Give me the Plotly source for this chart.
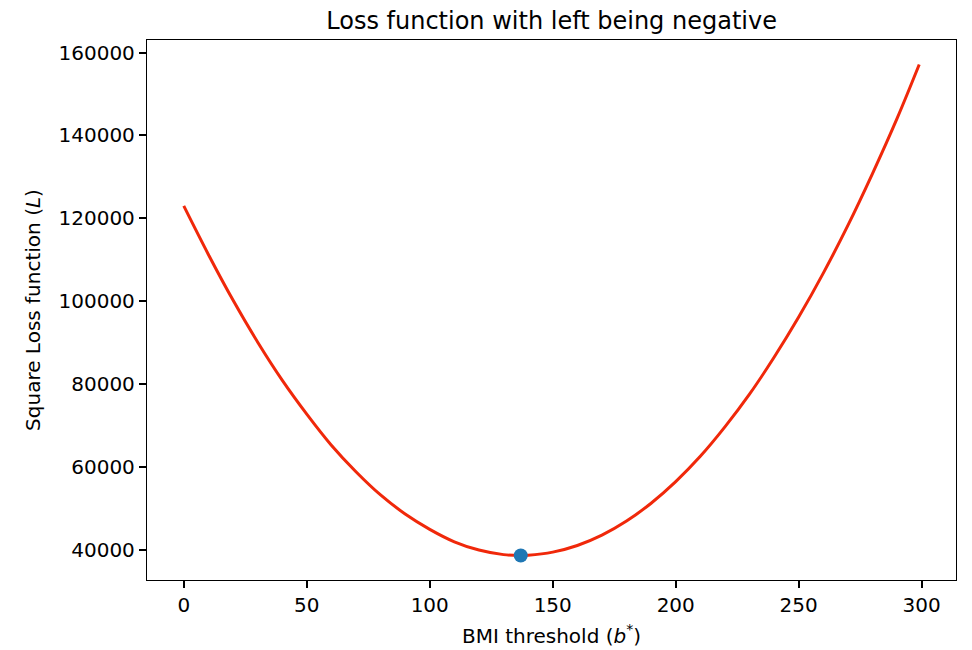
import plotly.graph_objects as go

# BMI threshold values and loss
bmi_threshold = [0, 10, 20, 30, 40, 50, 60, 70, 80, 90, 100, 110, 120, 130, 137,
                 140, 150, 160, 170, 180, 190, 200, 210, 220, 230, 240, 250, 260,
                 270, 280, 290, 299]
square_loss = [123000, 111300, 100300, 90200, 81000, 72800, 65300, 58900, 53300,
               48700, 45000, 42000, 40000, 38900, 38700, 38750, 39500, 41100,
               43600, 47000, 51300, 56500, 62600, 69700, 77600, 86500, 96200,
               106800, 118300, 130800, 144100, 157100]

best_threshold = [137]
best_loss = [38700]

x_ticks = [0, 50, 100, 150, 200, 250, 300]
y_ticks = [40000, 60000, 80000, 100000, 120000, 140000, 160000]

font_family = "DejaVu Sans"

fig = go.Figure()
fig.add_trace(go.Scatter(
    x=bmi_threshold, y=square_loss, mode="lines",
    line=dict(color="#f0280a", width=3, shape="spline"),
    showlegend=False, hoverinfo="skip"))
fig.add_trace(go.Scatter(
    x=best_threshold, y=best_loss, mode="markers",
    marker=dict(color="#1f77b4", size=14),
    showlegend=False))

axis_common = dict(
    showgrid=False, zeroline=False, showline=True, linecolor="black",
    linewidth=1.3, mirror=True, ticks="outside", ticklen=7, tickwidth=1.5,
    tickcolor="black", tickfont=dict(family=font_family, size=20, color="black"),
    automargin=False,
)

fig.update_layout(
    width=972, height=650,
    margin=dict(l=147, r=16, t=40, b=70),
    paper_bgcolor="white", plot_bgcolor="white",
    font=dict(family=font_family, color="black"),
    title=dict(text="Loss function with left being negative",
               x=0.5675, xanchor="center", y=0.969, yanchor="middle",
               font=dict(family=font_family, size=24, color="black")),
    xaxis=dict(axis_common, range=[-14.95, 313.95], tickvals=x_ticks,
               ticktext=[str(v) for v in x_ticks],
               title=dict(text="BMI threshold (<i>b</i><sup>*</sup>)",
                          font=dict(family=font_family, size=20, color="black"),
                          standoff=12)),
    yaxis=dict(axis_common, range=[32780, 163020], tickvals=y_ticks,
               ticktext=[str(v) for v in y_ticks],
               title=dict(text="Square Loss function (<i>L</i>)",
                          font=dict(family=font_family, size=20, color="black"),
                          standoff=12)),
)

fig.write_html("out.html")
